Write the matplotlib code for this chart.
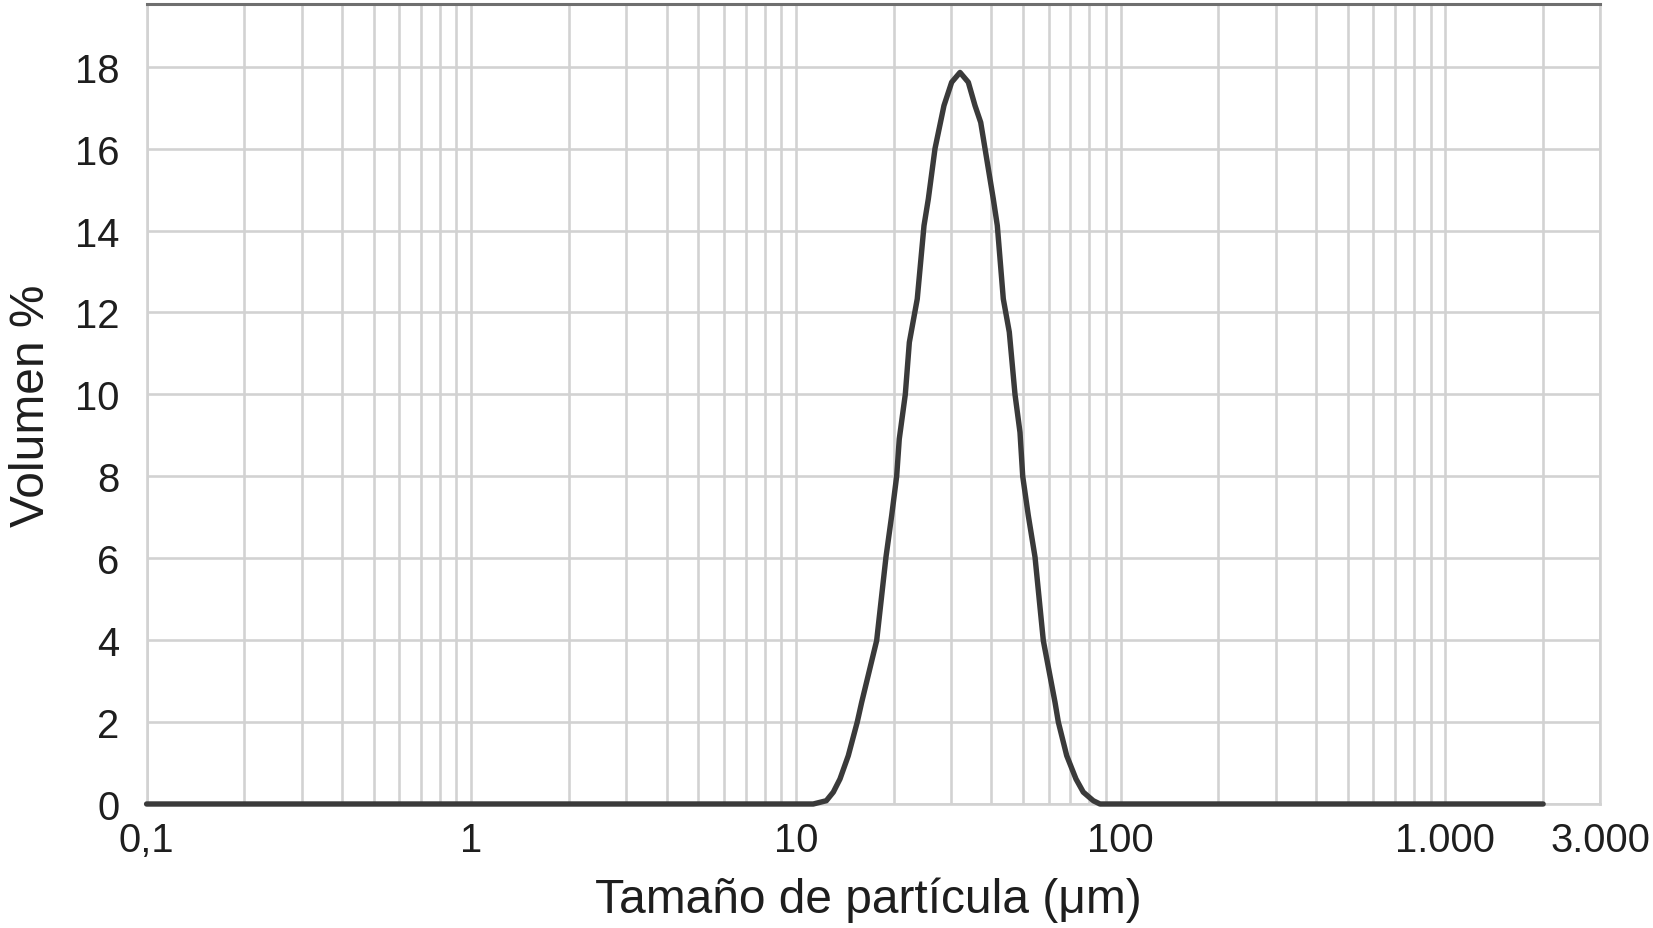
import matplotlib
matplotlib.use("Agg")
import matplotlib.pyplot as plt
from matplotlib.ticker import LogLocator, NullFormatter, FixedLocator, FixedFormatter

plt.rcParams['font.family'] = ['Liberation Sans', 'DejaVu Sans']

# Particle size (µm) and volume (%)
size_um = [0.1, 11.3, 12.4, 13.03, 13.66, 14.49, 15.44, 15.93, 17.72, 18.93,
           19.71, 20.42, 20.80, 21.71, 22.34, 23.63, 24.79, 25.56, 26.80,
           28.56, 30.16, 32.0, 33.94, 35.59, 37.06, 38.21, 40.52, 41.69,
           43.50, 45.39, 47.26, 48.97, 49.92, 51.94, 54.47, 57.77, 62.78,
           64.26, 68.20, 72.84, 76.70, 82.35, 86.36, 2000.0]
volume_pct = [0.0, 0.0, 0.08, 0.29, 0.61, 1.18, 2.0, 2.48, 3.99, 6.03,
              7.04, 8.0, 8.91, 10.0, 11.27, 12.33, 14.12, 14.77, 16.0,
              17.05, 17.62, 17.86, 17.62, 17.05, 16.64, 16.0, 14.77, 14.12,
              12.33, 11.52, 10.0, 9.07, 8.0, 7.04, 6.03, 3.99, 2.48,
              2.0, 1.18, 0.61, 0.29, 0.08, 0.0, 0.0]

xtick_vals = [0.1, 1, 10, 100, 1000, 3000]
xtick_labels = ["0,1", "1", "10", "100", "1.000", "3.000"]
ytick_vals = [0, 2, 4, 6, 8, 10, 12, 14, 16, 18]

W, H = 1653, 929
fig = plt.figure(figsize=(W / 100, H / 100), dpi=100)
x0, x1 = 146.6, 1600.3
y0, y1 = 805.0, 4.6
ax = fig.add_axes([x0 / W, (H - y0) / H, (x1 - x0) / W, (y0 - y1) / H])

grid_c = '#d2d2d2'
text_c = '#1e1e1e'

ax.plot(size_um, volume_pct, color='#3a3a3a', lw=3.9, solid_joinstyle='round',
        solid_capstyle='round', clip_on=False, zorder=5)

ax.set_xscale('log')
ax.set_xlim(0.1, 3000)
ax.set_ylim(0, 19.54)

ax.xaxis.set_major_locator(FixedLocator(xtick_vals))
ax.xaxis.set_major_formatter(FixedFormatter(xtick_labels))
ax.xaxis.set_minor_locator(LogLocator(base=10, subs=[2, 3, 4, 5, 6, 7, 8, 9], numticks=20))
ax.xaxis.set_minor_formatter(NullFormatter())
ax.set_yticks(ytick_vals)
ax.set_yticklabels([str(v) for v in ytick_vals])

ax.grid(True, which='both', axis='x', color=grid_c, lw=1.9)
ax.grid(True, which='major', axis='y', color=grid_c, lw=1.9)
ax.set_axisbelow(True)

ax.tick_params(axis='both', which='both', length=0, labelsize=28.8, labelcolor=text_c)
ax.tick_params(axis='x', pad=12)
ax.tick_params(axis='y', pad=19.5)

for side in ['left', 'right', 'bottom']:
    ax.spines[side].set_color(grid_c)
    ax.spines[side].set_linewidth(1.9)
ax.spines['top'].set_color('#6f6f6f')
ax.spines['top'].set_linewidth(2.2)

ax.set_xlabel('Tamaño de partícula (μm)', fontsize=34.5, color=text_c)
ax.set_ylabel('Volumen %', fontsize=34.5, color=text_c)
ax.xaxis.set_label_coords(0.4963, -0.090)
ax.yaxis.set_label_coords(-0.0637, 0.4985)

fig.savefig('out.png', dpi=100, facecolor='white')
